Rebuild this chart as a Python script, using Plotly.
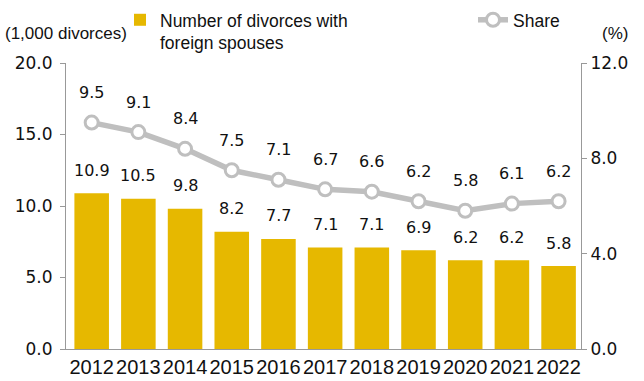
import plotly.graph_objects as go

years = ["2012", "2013", "2014", "2015", "2016", "2017", "2018", "2019", "2020", "2021", "2022"]
divorces = [10.9, 10.5, 9.8, 8.2, 7.7, 7.1, 7.1, 6.9, 6.2, 6.2, 5.8]
share = [9.5, 9.1, 8.4, 7.5, 7.1, 6.7, 6.6, 6.2, 5.8, 6.1, 6.2]

BAR_COLOR = "#e6b800"
LINE_COLOR = "#bfbfbf"
NUM_FONT = "DejaVu Sans"
LBL_FONT = "Liberation Sans"

fig = go.Figure()
fig.add_trace(go.Bar(
    x=years, y=divorces, name="Number of divorces with<br>foreign spouses",
    marker=dict(color=BAR_COLOR, line=dict(width=0)), width=0.74,
    yaxis="y", legend="legend",
))
fig.add_trace(go.Scatter(
    x=years, y=share, name="Share", mode="lines+markers",
    line=dict(color=LINE_COLOR, width=5.5),
    marker=dict(size=13, color="white", line=dict(color=LINE_COLOR, width=3)),
    yaxis="y2", legend="legend2",
))

for i, v in enumerate(divorces):
    fig.add_annotation(x=i, y=v, xref="x", yref="y", text=f"{v:.1f}", showarrow=False,
                       yanchor="middle", yshift=23,
                       font=dict(family=NUM_FONT, size=16, color="#111111"))
for i, v in enumerate(share):
    fig.add_annotation(x=i, y=v, xref="x", yref="y2", text=f"{v:.1f}", showarrow=False,
                       yanchor="middle", yshift=30,
                       font=dict(family=NUM_FONT, size=16, color="#111111"))

fig.add_annotation(x=0, y=1, xref="paper", yref="paper", xanchor="left", yanchor="middle",
                   xshift=-63, yshift=30, text="(1,000 divorces)", showarrow=False,
                   font=dict(family=LBL_FONT, size=17, color="#111111"))
fig.add_annotation(x=1, y=1, xref="paper", yref="paper", xanchor="left", yanchor="middle",
                   xshift=19, yshift=30, text="(%)", showarrow=False,
                   font=dict(family=LBL_FONT, size=17, color="#111111"))

legend_common = dict(orientation="h", xref="container", yref="container", y=0.995,
                     xanchor="left", yanchor="top", valign="top",
                     font=dict(family=LBL_FONT, size=17.5, color="#111111"),
                     itemwidth=30, bgcolor="rgba(0,0,0,0)")

fig.update_layout(
    width=644, height=381,
    margin=dict(l=66, r=63, t=63, b=32, autoexpand=False),
    paper_bgcolor="white", plot_bgcolor="white",
    showlegend=True,
    legend=dict(x=120 / 644, **legend_common),
    legend2=dict(x=473 / 644, **legend_common),
    xaxis=dict(type="category", range=[-0.55, 10.48], showline=True, linecolor="#999999",
               linewidth=1, ticks="", showgrid=False,
               tickfont=dict(family=LBL_FONT, size=20, color="#111111")),
    yaxis=dict(range=[0, 20], dtick=5, tickformat=".1f", showline=True, linecolor="#999999",
               linewidth=1, ticks="outside", ticklen=5, tickcolor="#999999", showgrid=False,
               zeroline=False, ticklabelstandoff=4,
               tickfont=dict(family=NUM_FONT, size=17, color="#111111")),
    yaxis2=dict(range=[0, 12], dtick=4, tickformat=".1f", overlaying="y", side="right",
                showline=True, linecolor="#999999", linewidth=1, ticks="outside", ticklen=5,
                tickcolor="#999999", showgrid=False, zeroline=False,
                tickfont=dict(family=NUM_FONT, size=17, color="#111111")),
    bargap=0.26,
)

fig.write_html("out.html", config={"displayModeBar": False},
               post_script="document.body.style.margin='0';")
